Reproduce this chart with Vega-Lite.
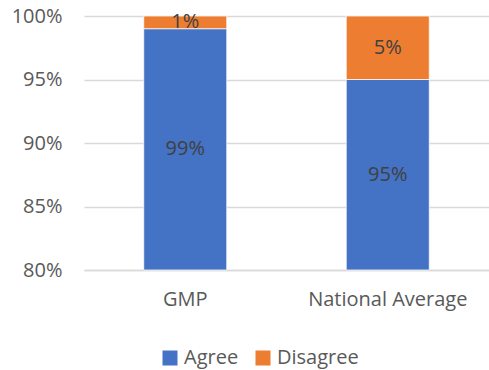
{
  "$schema": "https://vega.github.io/schema/vega-lite/v6.json",
  "width": 405,
  "height": 254,
  "autosize": {"type": "none"},
  "padding": {"left": 84, "top": 16, "right": 0, "bottom": 100},
  "background": "white",
  "config": {
    "view": {"stroke": null},
    "font": "Open Sans",
    "axis": {"labelFont": "Open Sans", "labelColor": "#595959", "labelFontSize": 20, "titleFont": "Open Sans"},
    "legend": {"labelFont": "Open Sans"}
  },
  "data": {
    "values": [
      {"cat": "GMP", "resp": "Agree", "value": 0.99, "label": "99%"},
      {"cat": "GMP", "resp": "Disagree", "value": 0.01, "label": "1%"},
      {"cat": "National Average", "resp": "Agree", "value": 0.95, "label": "95%"},
      {"cat": "National Average", "resp": "Disagree", "value": 0.05, "label": "5%"}
    ]
  },
  "transform": [
    {"stack": "value", "groupby": ["cat"], "sort": [{"field": "resp", "order": "ascending"}], "as": ["v0", "v1"]},
    {"calculate": "(max(datum.v0, 0.8) + datum.v1) / 2", "as": "mid"}
  ],
  "encoding": {
    "x": {
      "field": "cat", "type": "nominal", "title": null,
      "scale": {"paddingInner": 0.59, "paddingOuter": 0.295},
      "axis": {"labelAngle": 0, "ticks": false, "domainColor": "#d9d9d9", "domainWidth": 1.5, "labelPadding": 19, "labelBaseline": "top"}
    }
  },
  "layer": [
    {
      "mark": {"type": "bar", "stroke": "white", "strokeWidth": 0.75},
      "encoding": {
        "y": {
          "field": "v0", "type": "quantitative", "title": null,
          "scale": {"domain": [0.8, 1.0], "clamp": true, "nice": false, "zero": false},
          "axis": {"format": ".0%", "values": [0.8, 0.85, 0.9, 0.95, 1.0], "domain": false, "ticks": false, "gridColor": "#d9d9d9", "gridWidth": 1.5, "labelPadding": 22}
        },
        "y2": {"field": "v1"},
        "color": {
          "field": "resp", "type": "nominal", "title": null,
          "scale": {"domain": ["Agree", "Disagree"], "range": ["#4472C4", "#ED7D31"]},
          "legend": {
            "orient": "none", "legendX": 76, "legendY": 332, "direction": "horizontal",
            "symbolType": "square", "symbolSize": 225, "symbolStrokeWidth": 0,
            "labelFontSize": 20, "labelColor": "#595959", "labelOffset": 4, "columnPadding": 14
          }
        }
      }
    },
    {
      "mark": {"type": "text", "fontSize": 20, "color": "#404040", "baseline": "middle"},
      "encoding": {
        "y": {"field": "mid", "type": "quantitative"},
        "text": {"field": "label"}
      }
    }
  ]
}
